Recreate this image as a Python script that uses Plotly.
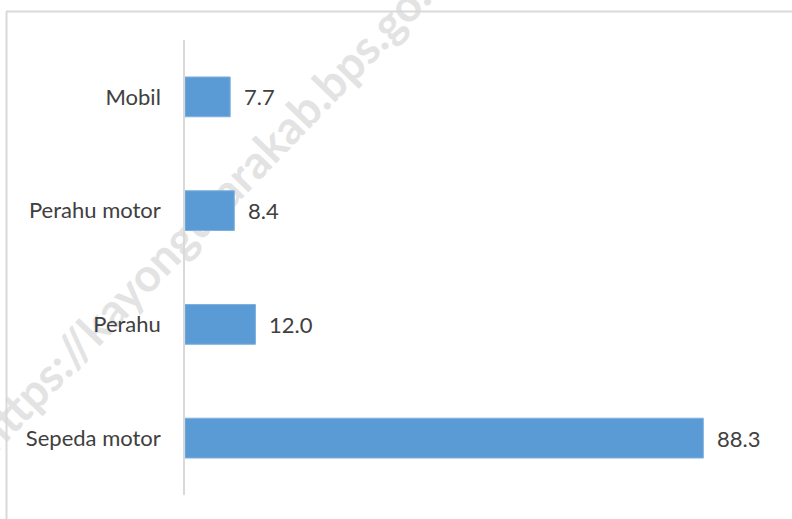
import plotly.graph_objects as go

categories = ["Sepeda motor", "Perahu", "Perahu motor", "Mobil"]
values = [88.3, 12.0, 8.4, 7.7]
value_labels = ["88.3", "12.0", "8.4", "7.7"]
watermark = "https://kayongutarakab.bps.go.id"

W, H = 792, 519
L, R, T, B = 185, 20, 40, 24
x_max = 100
FONT = "Lato"
TXT = "#404040"

fig = go.Figure()
fig.add_trace(go.Bar(
    y=categories, x=values, orientation="h",
    marker=dict(color="#5B9BD5", line=dict(color="#7FB0DE", width=1)),
    width=0.35, hoverinfo="skip",
))

for c, v, t in zip(categories, values, value_labels):
    fig.add_annotation(x=v, y=c, text=t, showarrow=False, xanchor="left",
                       xshift=12, font=dict(family=FONT, size=22, color=TXT))

pw = W - L - R
ph = H - T - B
def px_x(p):
    return (p - L) / pw
def px_y(p):
    return 1 - (p - T) / ph

# outer chart border (partially visible)
fig.add_shape(type="line", xref="paper", yref="paper",
              x0=px_x(6), x1=px_x(800), y0=px_y(11.5), y1=px_y(11.5),
              line=dict(color="#D9D9D9", width=2))
fig.add_shape(type="line", xref="paper", yref="paper",
              x0=px_x(6.5), x1=px_x(6.5), y0=px_y(11.5), y1=px_y(530),
              line=dict(color="#D9D9D9", width=2))

# watermark (behind the bars)
cx, cy = 214, 201
fig.add_shape(type="rect", xref="paper", yref="paper", layer="below",
              x0=px_x(cx - 5), x1=px_x(cx + 5), y0=px_y(cy + 5), y1=px_y(cy - 5),
              line=dict(width=0), fillcolor="rgba(0,0,0,0)",
              label=dict(text=watermark, textangle=-46, textposition="middle center",
                         font=dict(family="Lato", size=46,
                                   color="#E3E3E3", weight="bold")))

fig.update_layout(
    width=W, height=H,
    margin=dict(l=L, r=R, t=T, b=B),
    paper_bgcolor="white", plot_bgcolor="rgba(0,0,0,0)",
    showlegend=False,
    bargap=0.65,
    xaxis=dict(range=[0, x_max], showgrid=False, zeroline=False,
               showticklabels=False, showline=False, fixedrange=True),
    yaxis=dict(showgrid=False, zeroline=False, showline=True,
               linecolor="#D9D9D9", linewidth=1.5, ticks="",
               ticklabelstandoff=18, fixedrange=True,
               tickfont=dict(family=FONT, size=22, color=TXT)),
)

fig.write_html("out.html", config={"displayModeBar": False},
               post_script="document.body.style.margin='0';")
